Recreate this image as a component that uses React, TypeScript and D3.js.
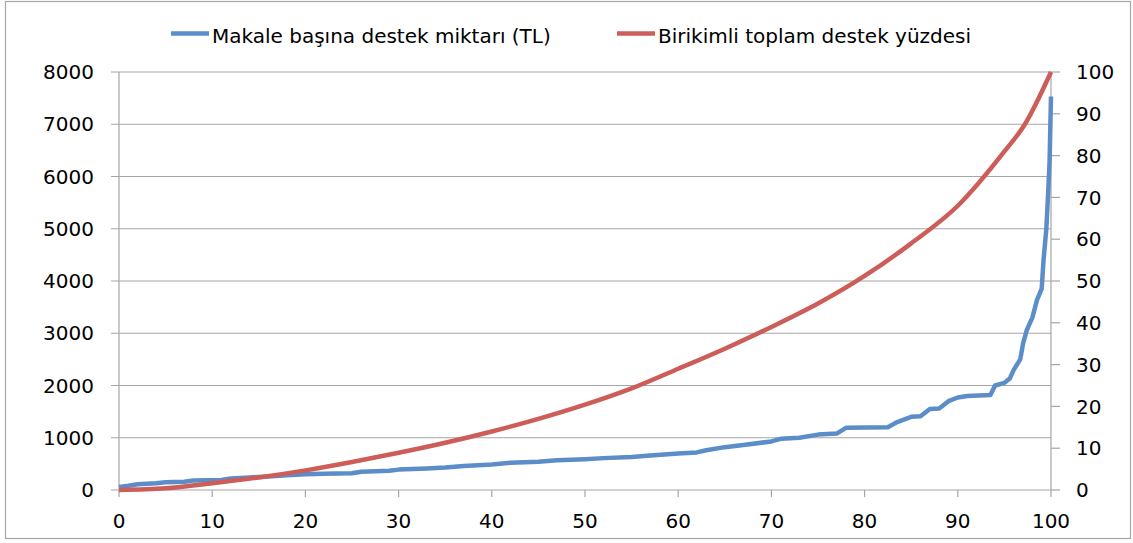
import React from "react";
import * as d3 from "d3";

const blueX = [0,1,2,4,5,7,8,11,12,14,16,18,20,22,25,26,29,30,33,35,37,40,42,45,47,50,52,55,57,60,62,63,65,67,70,71,73,75,77,78,82.5,83.5,85,86,87,88,89,90,91,93.5,94,95,95.6,96,96.7,97,97.4,98,98.5,99,99.2,99.5,99.7,99.85,100];
const blueY = [60,80,110,130,150,160,180,190,220,240,260,280,300,310,320,350,370,390,410,430,460,490,520,540,570,590,610,630,660,700,720,760,820,860,930,980,1000,1060,1080,1190,1200,1300,1400,1410,1550,1560,1700,1770,1800,1820,2000,2050,2140,2300,2500,2800,3060,3300,3640,3850,4400,5000,5700,6300,7530];

const redX = [0,5,10,15,20,25,30,35,40,45,50,55,60,65,70,75,80,85,90,95,97.2,100];
const redY = [0,0.4,1.6,3.0,4.7,6.7,8.9,11.3,14.0,17.0,20.4,24.3,29,33.8,39,44.6,51.2,59,68,81,87.5,100];

const leftTicks = [0,1000,2000,3000,4000,5000,6000,7000,8000];
const rightTicks = [0,10,20,30,40,50,60,70,80,90,100];
const xTicks = [0,10,20,30,40,50,60,70,80,90,100];

const seriesNames = ["Makale başına destek miktarı (TL)", "Birikimli toplam destek yüzdesi"];
const BLUE = "#5b8dc9";
const RED = "#cd5d58";
const GRID = "#a6a6a6";
const FONT = "'DejaVu Sans', sans-serif";

export default function App() {
  const x = d3.scaleLinear().domain([0, 100]).range([119, 1051]);
  const yL = d3.scaleLinear().domain([0, 8000]).range([490, 72]);
  const yR = d3.scaleLinear().domain([0, 100]).range([490, 72]);

  const blueLine = d3.line<number>().x((_, i) => x(blueX[i])).y((d) => yL(d))(blueY) || "";
  const redLine = d3.line<number>().x((_, i) => x(redX[i])).y((d) => yR(d)).curve(d3.curveMonotoneX)(redY) || "";

  return (
    <svg width={1133} height={543} style={{ position: "absolute", left: 0, top: 0, background: "#fff" }} fontFamily={FONT}>
      <rect x={5.5} y={1.5} width={1125} height={537} fill="#fff" stroke={GRID} strokeWidth={1.2} />
      {leftTicks.map((t) => (
        <line key={"g" + t} x1={111} x2={1051} y1={yL(t)} y2={yL(t)} stroke={GRID} strokeWidth={1.2} />
      ))}
      <line x1={119} x2={119} y1={72} y2={490} stroke={GRID} strokeWidth={1.2} />
      {leftTicks.map((t) => (
        <text key={"l" + t} x={94} y={yL(t)} dy="0.36em" textAnchor="end" fontSize={20} fill="#000">{t}</text>
      ))}
      <line x1={1051} x2={1051} y1={72} y2={490} stroke={GRID} strokeWidth={1.2} />
      {rightTicks.map((t) => (
        <g key={"r" + t}>
          <line x1={1051} x2={1060} y1={yR(t)} y2={yR(t)} stroke={GRID} strokeWidth={1.2} />
          <text x={1076} y={yR(t)} dy="0.36em" textAnchor="start" fontSize={20} fill="#000">{t}</text>
        </g>
      ))}
      {xTicks.map((t) => (
        <g key={"x" + t}>
          <line x1={x(t)} x2={x(t)} y1={490} y2={497} stroke={GRID} strokeWidth={1.2} />
          <text x={x(t)} y={528} textAnchor="middle" fontSize={20} fill="#000">{t}</text>
        </g>
      ))}
      <path d={blueLine} fill="none" stroke={BLUE} strokeWidth={4.5} strokeLinejoin="round" />
      <path d={redLine} fill="none" stroke={RED} strokeWidth={4.5} strokeLinejoin="round" />
      <line x1={171} x2={209} y1={33.5} y2={33.5} stroke={BLUE} strokeWidth={4.5} />
      <text x={212} y={43} fontSize={20} fill="#000">{seriesNames[0]}</text>
      <line x1={617} x2={655} y1={33.5} y2={33.5} stroke={RED} strokeWidth={4.5} />
      <text x={658} y={43} fontSize={20} fill="#000">{seriesNames[1]}</text>
    </svg>
  );
}
